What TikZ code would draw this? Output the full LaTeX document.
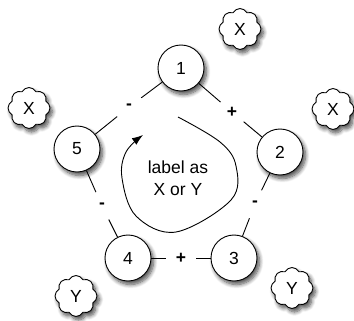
\documentclass[tikz,border=0pt]{standalone}
\usepackage{fontspec}
\setmainfont{Liberation Sans}
\usetikzlibrary{shapes.symbols,shadows.blur,arrows.meta}
\begin{document}
\begin{tikzpicture}[x=1pt,y=-1pt,
  every node/.style={font=\fontsize{17.5}{22}\selectfont},
  shadowstyle/.style={blur shadow={shadow xshift=2.5pt,shadow yshift=-3.5pt,shadow blur steps=8,shadow blur radius=4pt,shadow opacity=70}},
  numnode/.style={circle,draw,line width=0.9pt,fill=white,minimum size=46pt,inner sep=0pt,shadowstyle},
  cloudnode/.style={cloud,cloud puffs=8,cloud puff arc=125,aspect=1,draw,line width=0.9pt,fill=white,
    minimum width=42pt,minimum height=41pt,inner sep=0pt,shadowstyle},
  sign/.style={circle,minimum size=30pt,inner sep=0pt,font=\fontsize{17.5}{22}\selectfont\bfseries},
  edge/.style={line width=0.9pt}]
\useasboundingbox (0,0) rectangle (354,321);
% clouds
\node[cloudnode] (cx1) at (240,29) {X};
\node[cloudnode] (cx2) at (29,108) {X};
\node[cloudnode] (cx3) at (333,109) {X};
\node[cloudnode] (cy1) at (76,296) {Y};
\node[cloudnode] (cy2) at (292,288) {Y};
% numbered nodes
\node[numnode] (n1) at (181,68) {1};
\node[numnode] (n2) at (280,152) {2};
\node[numnode] (n3) at (234,258) {3};
\node[numnode] (n4) at (128,258) {4};
\node[numnode] (n5) at (77,149) {5};
% sign labels
\node[sign] (s15) at (129,107) {-};
\node[sign] (s12) at (232,112) {+};
\node[sign] (s54) at (102,206) {-};
\node[sign] (s23) at (255,204) {-};
\node[sign] (s43) at (181,258) {+};
% edges
\draw[edge] (n1) -- (s15) (s15) -- (n5);
\draw[edge] (n1) -- (s12) (s12) -- (n2);
\draw[edge] (n5) -- (s54) (s54) -- (n4);
\draw[edge] (n2) -- (s23) (s23) -- (n3);
\draw[edge] (n4) -- (s43) (s43) -- (n3);
% loop
\draw[line width=0.9pt,-{Latex[length=11pt,width=8pt]}] plot[smooth,tension=0.6] coordinates
  {(178,117) (220,142) (236,166) (231,200) (176,232) (136,216) (122,178) (126,152) (143,135)};
\node[align=center] (lbl) at (178,178) {label as\\X or Y};
\end{tikzpicture}
\end{document}
